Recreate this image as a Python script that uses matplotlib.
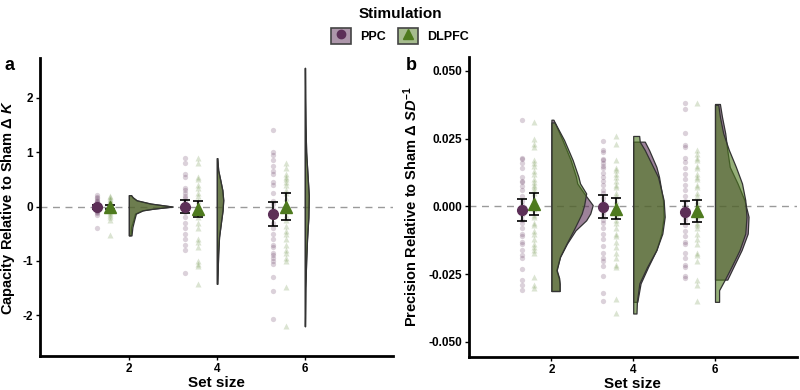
import matplotlib
matplotlib.use("Agg")
import numpy as np
import matplotlib.pyplot as plt
from matplotlib.patches import Patch
from matplotlib.lines import Line2D
from matplotlib.legend_handler import HandlerTuple
from matplotlib.colors import to_rgba

plt.rcParams['font.family'] = ['Liberation Sans', 'DejaVu Sans']
plt.rcParams['font.weight'] = 'bold'
plt.rcParams['axes.unicode_minus'] = False
plt.rcParams['mathtext.fontset'] = 'custom'
plt.rcParams['mathtext.rm'] = 'Liberation Sans:bold'
plt.rcParams['mathtext.it'] = 'Liberation Sans:italic:bold'
plt.rcParams['mathtext.bf'] = 'Liberation Sans:bold'

set_sizes = [2, 4, 6]
groups = ['PPC', 'DLPFC']
ppc_col = '#5c2f57'
dlp_col = '#4e7a1e'

# ---- panel a: capacity, raw subject values ----
a_ppc_pts = {
    2: [0.22, 0.18, 0.15, 0.12, 0.1, 0.08, 0.06, 0.04, 0.02, 0.01, 0.0, -0.01, -0.02, -0.03,
        -0.04, -0.05, -0.06, -0.08, -0.1, -0.12, -0.15, -0.4],
    4: [0.89, 0.8, 0.6, 0.55, 0.35, 0.3, 0.25, 0.2, 0.15, 0.1, 0.05, 0.0, -0.05, -0.1, -0.2,
        -0.3, -0.4, -0.5, -0.6, -0.7, -0.8, -1.22],
    6: [1.4, 1.0, 0.95, 0.85, 0.75, 0.65, 0.6, 0.45, 0.4, 0.25, 0.1, 0.05, -0.05, -0.15, -0.2,
        -0.3, -0.4, -0.5, -0.6, -0.7, -0.75, -0.85, -0.9, -0.95, -1.0, -1.05, -1.3, -1.55, -2.07],
}
a_dlp_pts = {
    2: [0.2, 0.17, 0.14, 0.12, 0.09, 0.07, 0.05, 0.03, 0.02, 0.0, -0.01, -0.02, -0.04, -0.05,
        -0.07, -0.09, -0.12, -0.15, -0.2, -0.25, -0.52],
    4: [0.9, 0.8, 0.55, 0.5, 0.4, 0.35, 0.25, 0.2, 0.1, 0.05, 0.0, -0.05, -0.1, -0.2, -0.3,
        -0.4, -0.6, -0.65, -0.75, -1.0, -1.05, -1.1, -1.42],
    6: [0.8, 0.7, 0.6, 0.55, 0.5, 0.45, 0.4, 0.3, 0.25, 0.15, 0.05, -0.05, -0.15, -0.25, -0.35,
        -0.45, -0.5, -0.6, -0.7, -0.8, -0.85, -0.95, -1.0, -1.48, -2.2],
}
a_ppc_mean = [-0.01, 0.0, -0.14]
a_ppc_err = [0.03, 0.125, 0.215]
a_dlp_mean = [-0.01, -0.045, 0.0]
a_dlp_err = [0.03, 0.14, 0.255]

# half-violin outlines (y, width)
a_vio = {
    2: {'PPC': ([0.21, 0.17, 0.115, 0.055, 0.0, -0.04, -0.07, -0.13, -0.25, -0.38, -0.53],
                [0.05, 0.08, 0.17, 0.48, 1.0, 0.55, 0.3, 0.14, 0.1, 0.05, 0.04]),
        'DLPFC': ([0.21, 0.17, 0.115, 0.055, 0.0, -0.04, -0.07, -0.13, -0.25, -0.38, -0.53],
                  [0.05, 0.09, 0.18, 0.5, 0.98, 0.55, 0.32, 0.16, 0.12, 0.08, 0.06])},
    4: {'PPC': ([0.89, 0.67, 0.48, 0.3, 0.12, -0.07, -0.25, -0.56, -0.87, -1.15, -1.42],
                [0.01, 0.03, 0.08, 0.125, 0.145, 0.13, 0.1, 0.05, 0.03, 0.02, 0.01]),
        'DLPFC': ([0.89, 0.67, 0.48, 0.3, 0.12, -0.07, -0.25, -0.56, -0.87, -1.15, -1.42],
                  [0.01, 0.03, 0.08, 0.125, 0.145, 0.13, 0.1, 0.05, 0.03, 0.02, 0.01])},
    6: {'PPC': ([2.55, 2.0, 1.5, 1.0, 0.6, 0.2, -0.2, -0.6, -1.0, -1.5, -2.2],
                [0.005, 0.008, 0.015, 0.03, 0.06, 0.09, 0.08, 0.05, 0.03, 0.012, 0.005]),
        'DLPFC': ([2.55, 2.0, 1.5, 1.0, 0.6, 0.2, -0.2, -0.6, -1.0, -1.5, -2.2],
                  [0.005, 0.008, 0.015, 0.03, 0.06, 0.09, 0.08, 0.05, 0.03, 0.012, 0.005])},
}

# ---- panel b: precision ----
b_ppc_pts = {
    2: [0.032, 0.018, 0.0175, 0.016, 0.014, 0.011, 0.0095, 0.009, 0.0075, 0.006, 0.004, 0.002,
        0.0005, -0.001, -0.003, -0.005, -0.006, -0.008, -0.010, -0.011, -0.013, -0.014, -0.016,
        -0.018, -0.019, -0.023, -0.027, -0.029, -0.031],
    4: [0.024, 0.021, 0.020, 0.0175, 0.017, 0.016, 0.015, 0.014, 0.0125, 0.011, 0.0095, 0.008,
        0.006, 0.005, 0.003, 0.0015, 0.0, -0.002, -0.003, -0.005, -0.006, -0.008, -0.010, -0.012,
        -0.0145, -0.017, -0.019, -0.020, -0.022, -0.0255, -0.032, -0.035],
    6: [0.038, 0.036, 0.027, 0.0225, 0.022, 0.018, 0.0165, 0.014, 0.012, 0.010, 0.008, 0.006,
        0.004, 0.002, 0.0, -0.003, -0.004, -0.005, -0.007, -0.009, -0.011, -0.013, -0.014,
        -0.017, -0.019, -0.0215, -0.0225, -0.0255, -0.0265],
}
b_dlp_pts = {
    2: [0.031, 0.025, 0.023, 0.022, 0.017, 0.016, 0.015, 0.013, 0.012, 0.010, 0.009, 0.008,
        0.007, 0.006, 0.005, 0.003, 0.001, -0.001, -0.003, -0.004, -0.006, -0.007, -0.009,
        -0.010, -0.012, -0.014, -0.015, -0.016, -0.017, -0.026, -0.029, -0.030],
    4: [0.026, 0.023, 0.017, 0.014, 0.0135, 0.012, 0.011, 0.0095, 0.008, 0.007, 0.005, 0.004,
        0.002, 0.0, -0.001, -0.003, -0.005, -0.006, -0.008, -0.010, -0.011, -0.013, -0.015,
        -0.017, -0.019, -0.0215, -0.0225, -0.034, -0.0395],
    6: [0.038, 0.021, 0.0195, 0.018, 0.017, 0.015, 0.014, 0.012, 0.011, 0.010, 0.008, 0.007,
        0.005, 0.004, 0.002, 0.001, -0.001, -0.003, -0.004, -0.006, -0.007, -0.008, -0.010,
        -0.012, -0.014, -0.017, -0.018, -0.020, -0.027, -0.029, -0.035],
}
b_ppc_mean = [-0.0014, -0.0001, -0.0022]
b_ppc_err = [0.004, 0.0042, 0.0043]
b_dlp_mean = [0.0008, -0.0008, -0.0016]
b_dlp_err = [0.004, 0.0038, 0.004]

b_vio = {
    2: {'PPC': ([0.032, 0.0245, 0.0171, 0.0109, 0.0085, 0.0048, 0.0005, -0.0026, -0.0051, -0.0088,
                 -0.0137, -0.0186, -0.0235, -0.0265, -0.0285, -0.0312],
                [0.05, 0.27, 0.47, 0.6, 0.63, 0.8, 1.01, 0.95, 0.85, 0.59, 0.38, 0.21, 0.12, 0.18, 0.2, 0.2]),
        'DLPFC': ([0.031, 0.0245, 0.0171, 0.0109, 0.0085, 0.0048, 0.0005, -0.0026, -0.0051, -0.0088,
                   -0.0137, -0.0186, -0.0235, -0.0265, -0.0285, -0.0312],
                  [0.08, 0.31, 0.52, 0.66, 0.70, 0.85, 0.80, 0.74, 0.66, 0.54, 0.37, 0.21, 0.13, 0.19, 0.2, 0.2])},
    4: {'PPC': ([0.0239, 0.0208, 0.0146, 0.0109, 0.0023, -0.0038, -0.0100, -0.0161, -0.0223, -0.0284, -0.0352],
                [0.283, 0.388, 0.566, 0.631, 0.728, 0.744, 0.688, 0.566, 0.364, 0.18, 0.1]),
        'DLPFC': ([0.026, 0.0239, 0.0208, 0.0146, 0.0109, 0.0023, -0.0038, -0.0100, -0.0161, -0.0223,
                   -0.0284, -0.0352, -0.0395],
                  [0.146, 0.16, 0.283, 0.485, 0.607, 0.744, 0.77, 0.712, 0.566, 0.34, 0.15, 0.09, 0.08])},
    6: {'PPC': ([0.0378, 0.0331, 0.027, 0.0208, 0.0146, 0.0085, 0.0023, -0.0038, -0.0100, -0.0161, -0.0223, -0.027],
                [0.12, 0.17, 0.25, 0.3, 0.36, 0.55, 0.72, 0.82, 0.8, 0.65, 0.45, 0.3]),
        'DLPFC': ([0.0375, 0.0331, 0.027, 0.0208, 0.0146, 0.0085, 0.0023, -0.0038, -0.0100, -0.0161,
                   -0.0223, -0.027, -0.0309, -0.0352],
                  [0.08, 0.12, 0.2, 0.34, 0.51, 0.66, 0.74, 0.77, 0.74, 0.6, 0.4, 0.24, 0.1, 0.1])},
}


def draw_panel(ax, ppc_pts, dlp_pts, ppc_mean, ppc_err, dlp_mean, dlp_err, vio):
    ax.axhline(0, color='#9a9a9a', ls=(0, (5, 4)), lw=1, zorder=0)
    cols = {'PPC': ppc_col, 'DLPFC': dlp_col}
    for i, s in enumerate(set_sizes):
        # half violins, drawn to the right of each set size
        for g in groups:
            ys, ws = vio[s][g]
            ys = np.array(ys)
            ws = np.array(ws)
            ax.fill_betweenx(ys, s, s + ws, facecolor=to_rgba(cols[g], 0.6),
                             edgecolor='#333333', lw=0.9, zorder=2)
        # raw points
        ax.plot([s - 0.73] * len(ppc_pts[s]), ppc_pts[s], 'o', color=ppc_col, alpha=0.22,
                ms=3.8, mec='none', zorder=3)
        ax.plot([s - 0.43] * len(dlp_pts[s]), dlp_pts[s], '^', color=dlp_col, alpha=0.2,
                ms=4.3, mec='none', zorder=3)
        # means with error bars
        ax.errorbar(s - 0.73, ppc_mean[i], yerr=ppc_err[i], fmt='o', color=ppc_col, ms=7,
                    ecolor='black', elinewidth=1.2, capsize=3.5, capthick=1.2, zorder=5)
        ax.errorbar(s - 0.43, dlp_mean[i], yerr=dlp_err[i], fmt='^', color=dlp_col, ms=8.5,
                    ecolor='black', elinewidth=1.2, capsize=3.5, capthick=1.2, zorder=5)
    ax.set_xlim(-0.02, 8.0)
    ax.set_xticks(set_sizes)
    ax.set_xticklabels([str(s) for s in set_sizes])
    ax.set_xlabel('Set size', fontsize=11, fontweight='bold', labelpad=1)
    for sp in ['top', 'right']:
        ax.spines[sp].set_visible(False)
    for sp in ['left', 'bottom']:
        ax.spines[sp].set_linewidth(2)
    ax.tick_params(length=3, width=1, labelsize=8.5, pad=2)


fig = plt.figure(figsize=(8, 3.9), dpi=100)
ax1 = fig.add_axes([0.05, 0.087, 0.441, 0.764])
ax2 = fig.add_axes([0.586, 0.085, 0.41, 0.77])

draw_panel(ax1, a_ppc_pts, a_dlp_pts, a_ppc_mean, a_ppc_err, a_dlp_mean, a_dlp_err, a_vio)
ax1.set_ylim(-2.75, 2.73)
ax1.set_yticks([-2, -1, 0, 1, 2])
ax1.set_yticklabels(['-2', '-1', '0', '1', '2'])
ax1.set_ylabel(r'Capacity Relative to Sham $\Delta\ K$', fontsize=10.5, fontweight='bold')
ax1.yaxis.set_label_coords(-0.065, 0.5)

draw_panel(ax2, b_ppc_pts, b_dlp_pts, b_ppc_mean, b_ppc_err, b_dlp_mean, b_dlp_err, b_vio)
ax2.set_ylim(-0.0555, 0.0553)
ax2.set_yticks([-0.05, -0.025, 0.0, 0.025, 0.05])
ax2.set_yticklabels(['-0.050', '-0.025', '0.000', '0.025', '0.050'])
ax2.set_ylabel(r'Precision Relative to Sham $\Delta\ SD^{-1}$', fontsize=10.5, fontweight='bold')
ax2.yaxis.set_label_coords(-0.15, 0.5)

fig.text(0.006, 0.82, 'a', fontsize=13, fontweight='bold')
fig.text(0.507, 0.82, 'b', fontsize=13, fontweight='bold')

# legend
h_ppc = (Patch(facecolor=to_rgba(ppc_col, 0.5), edgecolor='#444444', lw=1.2),
         Line2D([], [], marker='o', color=ppc_col, ls='', ms=6))
h_dlp = (Patch(facecolor=to_rgba(dlp_col, 0.5), edgecolor='#444444', lw=1.2),
         Line2D([], [], marker='^', color=dlp_col, ls='', ms=7.5))
fig.legend(handles=[h_ppc, h_dlp], labels=groups, handler_map={tuple: HandlerTuple(ndivide=1)},
           ncol=2, loc='upper center', bbox_to_anchor=(0.5, 1.01), frameon=False,
           title='Stimulation', title_fontproperties={'weight': 'bold', 'size': 11},
           prop={'weight': 'bold', 'size': 9}, handlelength=1.6, handleheight=1.6,
           columnspacing=1.0, handletextpad=0.7)

fig.savefig('out.png', dpi=100)
